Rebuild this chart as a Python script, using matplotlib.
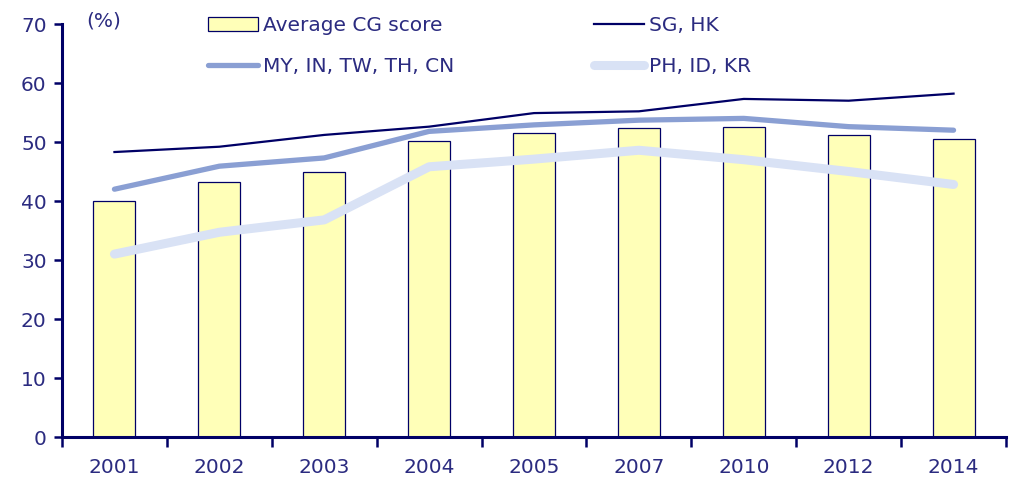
import matplotlib
matplotlib.use("Agg")
import matplotlib.pyplot as plt
import numpy as np

years = ["2001", "2002", "2003", "2004", "2005", "2007", "2010", "2012", "2014"]
avg_cg = [40.0, 43.2, 45.0, 50.1, 51.5, 52.4, 52.6, 51.2, 50.5]
sg_hk = [48.3, 49.2, 51.2, 52.6, 54.9, 55.2, 57.3, 57.0, 58.2]
my_group = [42.0, 45.9, 47.3, 51.8, 52.9, 53.7, 54.0, 52.6, 52.0]
ph_group = [31.0, 34.7, 36.8, 45.8, 47.1, 48.6, 47.0, 45.0, 42.8]

navy = "#000066"
txt = "#2B2B80"
plt.rcParams['font.family'] = ['DejaVu Sans']
fs = 14.5

fig = plt.figure(figsize=(10.16, 4.86), dpi=100)
ax = fig.add_axes([62/1016, (486-437)/486, (1006-62)/1016, (437-24)/486])

x = np.arange(len(years))
bars = ax.bar(x, avg_cg, width=0.4, color="#FFFFB8", edgecolor=navy, linewidth=0.9,
              label="Average CG score", zorder=2)
l_my, = ax.plot(x, my_group, color="#8A9FD3", lw=3.8, solid_capstyle="round",
                label="MY, IN, TW, TH, CN", zorder=3)
l_ph, = ax.plot(x, ph_group, color="#D9E2F5", lw=6.5, solid_capstyle="round",
                label="PH, ID, KR", zorder=3)
l_sg, = ax.plot(x, sg_hk, color=navy, lw=1.6, label="SG, HK", zorder=4)

ax.set_xlim(-0.5, len(years) - 0.5)
ax.set_ylim(0, 70)
ax.set_yticks(range(0, 71, 10))
ax.set_xticks(x)
ax.set_xticklabels(years)
ax.set_xticks(np.arange(-0.5, len(years)), minor=True)
ax.tick_params(axis='x', which='major', length=0, pad=15, labelsize=fs, labelcolor=txt)
ax.tick_params(axis='x', which='minor', length=7, width=1.8, color=navy, direction='out')
ax.tick_params(axis='y', length=6, width=1.8, color=navy, labelsize=fs, labelcolor=txt, pad=5)

for s in ['top', 'right']:
    ax.spines[s].set_visible(False)
for s in ['left', 'bottom']:
    ax.spines[s].set_color(navy)
    ax.spines[s].set_linewidth(2.2)

fig.text(86/1016, 1 - 21/486, "(%)", fontsize=fs, color=txt, va='center', ha='left')

leg = fig.legend(handles=[bars, l_my, l_sg, l_ph], ncol=2, frameon=False,
                 loc='upper left', bbox_to_anchor=(194/1016, 1 - 2/486),
                 fontsize=fs, labelcolor=txt, handlelength=2.5, handletextpad=0.25,
                 columnspacing=6.9, labelspacing=1.1, borderpad=0.2)

fig.savefig("out.png", dpi=100)
